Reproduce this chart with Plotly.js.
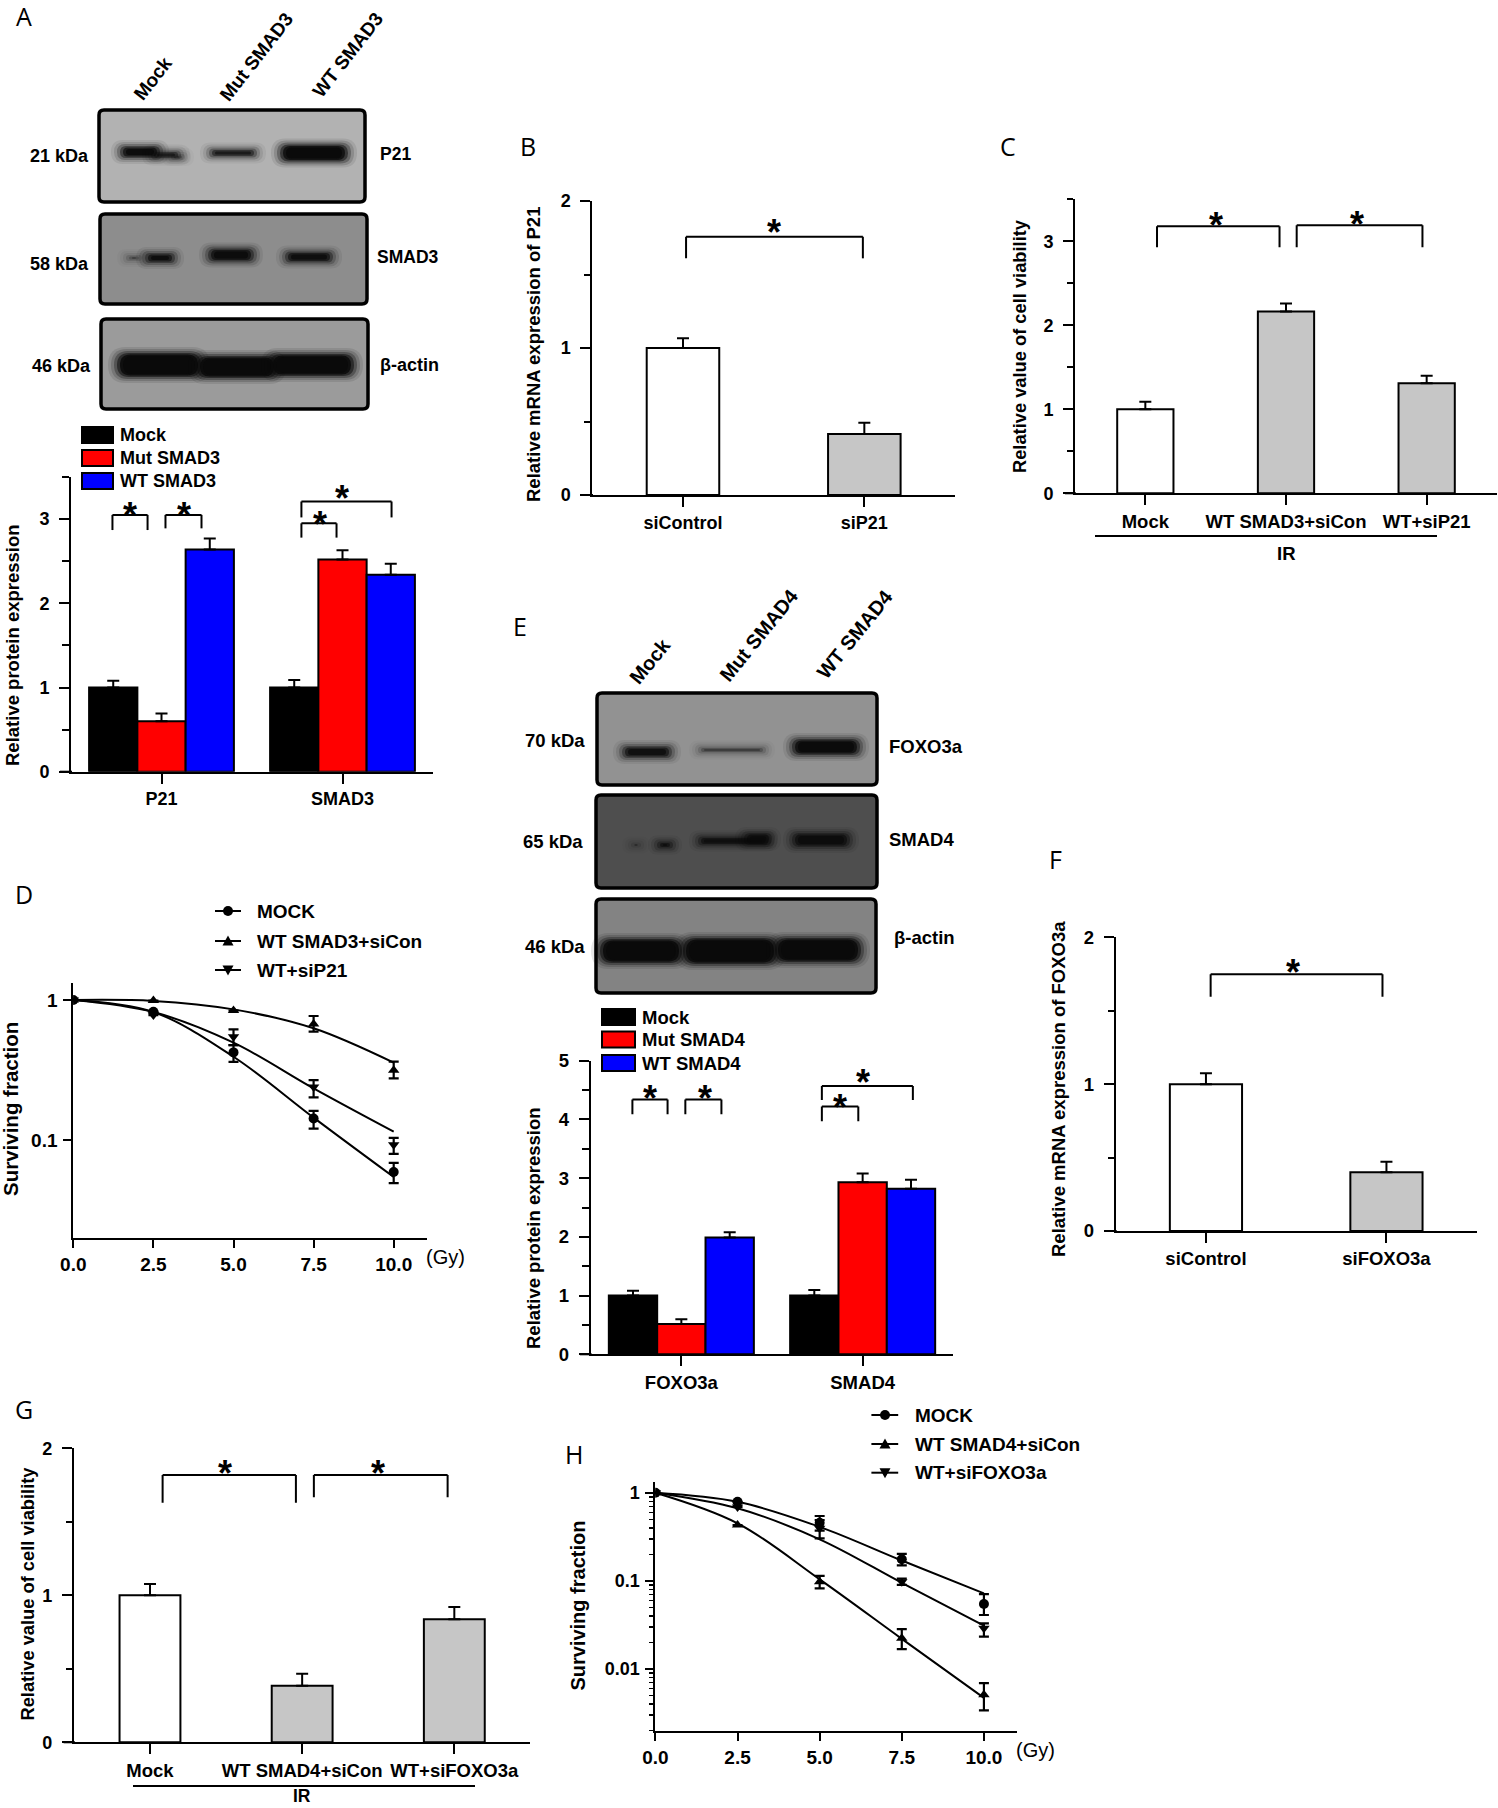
<!DOCTYPE html>
<html><head><meta charset="utf-8">
<script src="https://cdn.plot.ly/plotly-3.0.1.min.js"></script>
<style>body{margin:0;background:#fff}</style>
</head><body><div id="plot" style="width:1498px;height:1808px"></div>
<script>
// ---------------- DATA ----------------
// Panel A
const aCategories = ['P21', 'SMAD3'];
const aSeries = ['Mock', 'Mut SMAD3', 'WT SMAD3'];
const aMock = [1.00, 1.00];   const aMockErr = [0.08, 0.09];
const aMut  = [0.60, 2.52];   const aMutErr  = [0.09, 0.11];
const aWT   = [2.64, 2.34];   const aWTErr   = [0.13, 0.13];
// Panel B
const bCategories = ['siControl', 'siP21'];
const bValues = [1.00, 0.415];
const bErr    = [0.066, 0.077];
// Panel C
const cCategories = ['Mock', 'WT SMAD3+siCon', 'WT+siP21'];
const cValues = [1.00, 2.165, 1.31];
const cErr    = [0.089, 0.095, 0.09];
// Panel D
const dDose = [0, 2.5, 5.0, 7.5, 10.0];
const dSeries = ['MOCK', 'WT SMAD3+siCon', 'WT+siP21'];
const dMock    = [1, 0.825, 0.423, 0.143, 0.0594];
const dMockUp  = [0, 0, 0.054, 0.019, 0.0095];
const dMockDn  = [0, 0, 0.061, 0.022, 0.0099];
const dWT      = [1, 0.99, 0.84, 0.674, 0.316];
const dWTUp    = [0, 0, 0, 0.095, 0.047];
const dWTDn    = [0, 0, 0, 0.080, 0.040];
const dSi      = [1, 0.78, 0.547, 0.24, 0.093];
const dSiUp    = [0, 0, 0.07, 0.028, 0.011];
const dSiDn    = [0, 0, 0.07, 0.038, 0.013];
const dMockFit = [1, 0.82, 0.394, 0.145, 0.0547];
const dWTFit   = [1, 0.985, 0.857, 0.628, 0.357];
const dSiFit   = [1, 0.82, 0.496, 0.234, 0.115];
// Panel E
const eCategories = ['FOXO3a', 'SMAD4'];
const eSeries = ['Mock', 'Mut SMAD4', 'WT SMAD4'];
const eMock = [1.00, 1.00];   const eMockErr = [0.084, 0.095];
const eMut  = [0.516, 2.93];  const eMutErr  = [0.08, 0.15];
const eWT   = [1.99, 2.82];   const eWTErr   = [0.087, 0.154];
// Panel F
const fCategories = ['siControl', 'siFOXO3a'];
const fValues = [1.00, 0.40];
const fErr    = [0.074, 0.072];
// Panel G
const gCategories = ['Mock', 'WT SMAD4+siCon', 'WT+siFOXO3a'];
const gValues = [1.00, 0.385, 0.837];
const gErr    = [0.077, 0.082, 0.084];
// Panel H
const hDose = [0, 2.5, 5.0, 7.5, 10.0];
const hSeries = ['MOCK', 'WT SMAD4+siCon', 'WT+siFOXO3a'];
const hMock    = [1, 0.79, 0.457, 0.176, 0.0547];
const hMockUp  = [0, 0, 0.087, 0.026, 0.016];
const hMockDn  = [0, 0, 0.086, 0.026, 0.0137];
const hWT      = [1, 0.43, 0.098, 0.0223, 0.0051];
const hWTUp    = [0, 0, 0.016, 0.006, 0.0018];
const hWTDn    = [0, 0, 0.016, 0.0055, 0.0017];
const hSi      = [1, 0.69, 0.395, 0.098, 0.029];
const hSiUp    = [0, 0, 0.095, 0.008, 0.004];
const hSiDn    = [0, 0, 0.091, 0.008, 0.0057];
const hMockFit = [1, 0.79, 0.41, 0.17, 0.072];
const hWTFit   = [1, 0.45, 0.104, 0.022, 0.0047];
const hSiFit   = [1, 0.665, 0.296, 0.095, 0.031];

// ---------------- HELPERS ----------------
const W = 1498, H = 1808;
const FONT = 'Liberation Sans, Arial, sans-serif';
const px = x => x / W, py = y => 1 - y / H;
const xdom = (a, b) => [a / W, b / W];
const ydom = (top, bot) => [1 - bot / H, 1 - top / H];
const zeros = a => a.map(() => 0);

const data = [];
const shapes = [];
const ann = [];

function barTrace(xa, ya, cats, vals, errs, color, width) {
  const t = {type: 'bar', x: cats, y: vals, xaxis: xa, yaxis: ya,
    marker: {color: color, line: {color: '#000', width: 2}},
    error_y: {type: 'data', symmetric: false, array: errs, arrayminus: zeros(errs),
              color: '#000', thickness: 2, width: 6},
    hoverinfo: 'none'};
  if (width) t.width = width;
  data.push(t);
}
function pointTrace(xa, ya, xs, ys, up, dn, symbol) {
  data.push({type: 'scatter', mode: 'markers', x: xs, y: ys, xaxis: xa, yaxis: ya,
    marker: {symbol: symbol, size: 10, color: '#000'},
    error_y: {type: 'data', symmetric: false, array: up, arrayminus: dn,
              color: '#000', thickness: 2.2, width: 5},
    hoverinfo: 'none'});
}
function fitTrace(xa, ya, xs, ys) {
  data.push({type: 'scatter', mode: 'lines', x: xs, y: ys, xaxis: xa, yaxis: ya,
    line: {color: '#000', width: 2, shape: 'spline', smoothing: 1}, hoverinfo: 'none'});
}
function catAxis(dom, cats, anchor, fs, nx) {
  return {domain: dom, type: 'category', categoryorder: 'array', categoryarray: cats,
    range: [-0.5, nx - 0.5], anchor: anchor, showline: true, linewidth: 2, linecolor: '#000',
    ticks: 'outside', ticklen: 10, tickwidth: 2, tickcolor: '#000', showgrid: false, zeroline: false,
    tickfont: {family: FONT, size: fs, color: '#000', weight: 'bold'}, fixedrange: true};
}
function linYAxis(dom, top, anchor, fs, minorLen) {
  return {domain: dom, range: [0, top], anchor: anchor, showline: true, linewidth: 2, linecolor: '#000',
    ticks: 'outside', ticklen: 10, tickwidth: 2, tickcolor: '#000', dtick: 1, tick0: 0,
    minor: {dtick: 0.5, tick0: 0, ticks: 'outside', ticklen: minorLen, tickwidth: 2, tickcolor: '#000', showgrid: false},
    showgrid: false, zeroline: false, ticklabelstandoff: 6,
    tickfont: {family: FONT, size: fs, color: '#000', weight: 'bold'}, fixedrange: true};
}
function doseAxis(dom, right, anchor) {
  return {domain: dom, range: [0, right], anchor: anchor, showline: true, linewidth: 2, linecolor: '#000',
    ticks: 'outside', ticklen: 8, tickwidth: 2, tickcolor: '#000',
    tickvals: [0, 2.5, 5, 7.5, 10], tickformat: '.1f', showgrid: false, zeroline: false,
    tickfont: {family: FONT, size: 19, color: '#000', weight: 'bold'}, fixedrange: true};
}
function logAxis(dom, lo, hi, anchor, vals, texts, fs, minorVals) {
  const a = {domain: dom, type: 'log', range: [lo, hi], anchor: anchor, showline: true, linewidth: 2, linecolor: '#000',
    ticks: 'outside', ticklen: 8, tickwidth: 2, tickcolor: '#000', tickvals: vals, ticktext: texts,
    showgrid: false, zeroline: false, ticklabelstandoff: 2,
    tickfont: {family: FONT, size: fs, color: '#000', weight: 'bold'}, fixedrange: true};
  if (minorVals) a.minor = {tickvals: minorVals, ticks: 'outside', ticklen: 4, tickwidth: 1.5, tickcolor: '#000', showgrid: false};
  return a;
}
function lineP(x0, y0, x1, y1, w) {
  shapes.push({type: 'line', xref: 'paper', yref: 'paper', x0: px(x0), y0: py(y0), x1: px(x1), y1: py(y1),
    line: {color: '#000', width: w || 2}});
}
function bracket(xa, ya, x0, x1, top, legL, legR) {
  const L = (a, b, c, d) => shapes.push({type: 'line', xref: xa, yref: ya, x0: a, y0: b, x1: c, y1: d,
    line: {color: '#000', width: 2}});
  L(x0, legL, x0, top); L(x0, top, x1, top); L(x1, top, x1, legR);
}
function star(xa, ya, x, y) {
  ann.push({xref: xa, yref: ya, x: x, y: y, text: '*', showarrow: false, xanchor: 'center', yanchor: 'middle',
    yshift: -9, font: {family: FONT, size: 36, color: '#000', weight: 'bold'}});
}
function txt(x, y, t, size, opts) {
  ann.push(Object.assign({xref: 'paper', yref: 'paper', x: px(x), y: py(y), text: t, showarrow: false,
    xanchor: 'center', yanchor: 'middle', font: {family: FONT, size: size, color: '#000', weight: 'bold'}}, opts || {}));
}
function letter(x, y, t) {
  txt(x, y, t, 25, {font: {family: 'Open Sans, Noto Sans, sans-serif', size: 25, color: '#000', weight: 400}});
}
function rrectPath(x0, y0, x1, y1, r) {
  const P = (x, y) => px(x) + ',' + py(y);
  return 'M' + P(x0 + r, y0) + ' L' + P(x1 - r, y0) + ' Q' + P(x1, y0) + ' ' + P(x1, y0 + r) +
    ' L' + P(x1, y1 - r) + ' Q' + P(x1, y1) + ' ' + P(x1 - r, y1) +
    ' L' + P(x0 + r, y1) + ' Q' + P(x0, y1) + ' ' + P(x0, y1 - r) +
    ' L' + P(x0, y0 + r) + ' Q' + P(x0, y0) + ' ' + P(x0 + r, y0) + ' Z';
}
function blotBox(x0, y0, x1, y1, bg, bands) {
  shapes.push({type: 'path', xref: 'paper', yref: 'paper', path: rrectPath(x0, y0, x1, y1, 5),
    fillcolor: bg, line: {width: 0}});
  bands.forEach(b => {
    const [cx, cy, w, h, d] = b;
    [[18, 12, 0.07], [12, 8, 0.12], [6, 4, 0.22], [0, 0, 0.38], [-6, -3, 0.6], [-12, -6, 0.75]].forEach(l => {
      const ww = Math.max(w + l[0], 2), hh = Math.max(h + l[1], 2);
      shapes.push({type: 'path', xref: 'paper', yref: 'paper',
        path: rrectPath(cx - ww / 2, cy - hh / 2, cx + ww / 2, cy + hh / 2, hh / 2),
        fillcolor: 'rgba(10,10,10,' + Math.min(l[2] * d, 1).toFixed(3) + ')', line: {width: 0}});
    });
  });
  shapes.push({type: 'path', xref: 'paper', yref: 'paper', path: rrectPath(x0, y0, x1, y1, 5),
    fillcolor: 'rgba(0,0,0,0)', line: {color: '#000', width: 3.5}});
}
function legendRect(x0, y0, x1, y1, color) {
  shapes.push({type: 'rect', xref: 'paper', yref: 'paper', x0: px(x0), y0: py(y0), x1: px(x1), y1: py(y1),
    fillcolor: color, line: {color: '#000', width: 2}});
}
function legendMarker(cx, cy, kind) {
  if (kind === 'circle') {
    shapes.push({type: 'circle', xref: 'paper', yref: 'paper', x0: px(cx - 5), y0: py(cy - 5), x1: px(cx + 5), y1: py(cy + 5),
      fillcolor: '#000', line: {width: 0}});
  } else {
    const s = kind === 'up' ? 1 : -1;
    const P = (x, y) => px(x) + ',' + py(y);
    shapes.push({type: 'path', xref: 'paper', yref: 'paper',
      path: 'M' + P(cx, cy - 5.5 * s) + ' L' + P(cx + 5.5, cy + 4.5 * s) + ' L' + P(cx - 5.5, cy + 4.5 * s) + ' Z',
      fillcolor: '#000', line: {width: 0}});
  }
}

// ---------------- PANEL A ----------------
letter(24, 16, 'A');
blotBox(99, 110, 365, 202, '#b2b2b2', [
  [140, 152, 40, 12, 1.1], [166, 155, 30, 9, 0.7], [178, 157, 14, 6, 0.4],
  [233, 153, 48, 9, 0.8],
  [314, 153, 68, 17, 1.3]]);
blotBox(100, 214, 367, 304, '#8d8d8d', [
  [134, 258, 16, 6, 0.35], [160, 258, 30, 10, 1.0],
  [231, 255, 46, 13, 1.1],
  [309, 257, 48, 11, 1.0]]);
blotBox(101, 319, 368, 409, '#9b9b9b', [
  [159, 365, 84, 24, 1.4], [237, 367, 80, 22, 1.4], [312, 365, 84, 22, 1.4]]);
txt(59, 156, '21 kDa', 18); txt(59, 264, '58 kDa', 18); txt(62, 366, '46 kDa', 18);
txt(378, 154, 'P21', 17.5, {xanchor: 'left'}); txt(375, 257, 'SMAD3', 17.5, {xanchor: 'left'});
txt(378, 365, 'β-actin', 18, {xanchor: 'left'});
txt(153, 79, aSeries[0], 19, {textangle: -52}); txt(257, 57, aSeries[1], 19, {textangle: -52});
txt(347, 55, aSeries[2], 19, {textangle: -52});
const aColors = ['#000000', '#ff0000', '#0000ff'];
[[aMock, aMockErr], [aMut, aMutErr], [aWT, aWTErr]].forEach((s, i) =>
  barTrace('x', 'y', aCategories, s[0], s[1], aColors[i]));
[435, 458, 481].forEach((y, i) => { legendRect(82, y - 8, 113, y + 8, aColors[i]); txt(118, y, aSeries[i], 18, {xanchor: 'left'}); });
txt(12, 645, 'Relative protein expression', 18.5, {textangle: -90});
lineP(60, 771.7, 72, 771.7);
bracket('x', 'y', -0.271, -0.077, 3.05, 2.87, 2.87); star('x', 'y', -0.174, 3.15);
bracket('x', 'y', 0.022, 0.221, 3.05, 2.89, 2.89);   star('x', 'y', 0.122, 3.15);
bracket('x', 'y', 0.773, 0.967, 2.95, 2.78, 2.78);   star('x', 'y', 0.877, 3.04);
bracket('x', 'y', 0.773, 1.271, 3.21, 3.02, 3.02);   star('x', 'y', 0.998, 3.35);

// ---------------- PANEL B ----------------
letter(528, 146, 'B');
barTrace('x2', 'y2', bCategories, bValues, bErr, ['#ffffff', '#c6c6c6'], 0.4);
txt(533, 355, 'Relative mRNA expression of P21', 18.5, {textangle: -90});
lineP(582, 495, 593, 495);
bracket('x2', 'y2', 0.017, 0.992, 1.757, 1.61, 1.61); star('x2', 'y2', 0.5, 1.848);

// ---------------- PANEL C ----------------
letter(1008, 146, 'C');
barTrace('x3', 'y3', cCategories, cValues, cErr, ['#ffffff', '#c6c6c6', '#c6c6c6'], 0.4);
txt(1019, 346, 'Relative value of cell viability', 18.3, {textangle: -90});
lineP(1065, 493.3, 1076, 493.3);
bracket('x3', 'y3', 0.083, 0.954, 3.18, 2.93, 2.93); star('x3', 'y3', 0.505, 3.30);
bracket('x3', 'y3', 1.076, 1.970, 3.19, 2.93, 2.93); star('x3', 'y3', 1.507, 3.31);
lineP(1095, 536, 1437, 536, 2);
txt(1286, 553, 'IR', 18.5);

// ---------------- PANEL D ----------------
letter(24, 894, 'D');
fitTrace('x4', 'y4', dDose, dMockFit); fitTrace('x4', 'y4', dDose, dWTFit); fitTrace('x4', 'y4', dDose, dSiFit);
pointTrace('x4', 'y4', dDose, dMock, dMockUp, dMockDn, 'circle');
pointTrace('x4', 'y4', dDose, dWT, dWTUp, dWTDn, 'triangle-up');
pointTrace('x4', 'y4', dDose, dSi, dSiUp, dSiDn, 'triangle-down');
txt(10, 1109, 'Surviving fraction', 20.5, {textangle: -90});
txt(445, 1257, '(Gy)', 20, {font: {family: FONT, size: 20, color: '#000', weight: 'normal'}});
const dKinds = ['circle', 'up', 'down'];
[911, 941, 970].forEach((y, i) => { lineP(215, y, 241, y, 2); legendMarker(228, y, dKinds[i]); txt(255, y, dSeries[i], 19, {xanchor: 'left'}); });

// ---------------- PANEL E ----------------
letter(520, 626, 'E');
blotBox(597, 693, 877, 785, '#929292', [
  [647, 752, 50, 12, 0.95], [732, 750, 68, 7, 0.4], [826, 747, 68, 16, 1.2]]);
blotBox(596, 795, 877, 888, '#4e4e4e', [
  [636, 845, 10, 5, 0.3], [665, 845, 16, 7, 0.9], [733, 841, 70, 9, 0.9], [758, 839, 28, 12, 0.9],
  [821, 840, 58, 14, 1.0]]);
blotBox(596, 899, 876, 993, '#838383', [
  [641, 951, 82, 24, 1.4], [730, 951, 94, 26, 1.4], [818, 950, 86, 24, 1.4]]);
txt(555, 740, '70 kDa', 18.5); txt(553, 841, '65 kDa', 18.5); txt(555, 947, '46 kDa', 18.5);
txt(887, 746, 'FOXO3a', 18.5, {xanchor: 'left'}); txt(887, 839, 'SMAD4', 18.5, {xanchor: 'left'});
txt(892, 938, 'β-actin', 18.5, {xanchor: 'left'});
txt(650, 661, eSeries[0], 20, {textangle: -51}); txt(759, 635, eSeries[1], 20, {textangle: -51});
txt(855, 634, eSeries[2], 20, {textangle: -51});
[[eMock, eMockErr], [eMut, eMutErr], [eWT, eWTErr]].forEach((s, i) =>
  barTrace('x5', 'y5', eCategories, s[0], s[1], aColors[i]));
[1017, 1039.5, 1063].forEach((y, i) => { legendRect(602, y - 8, 635, y + 8, aColors[i]); txt(640, y, eSeries[i], 18.5, {xanchor: 'left'}); });
txt(533, 1228, 'Relative protein expression', 18.5, {textangle: -90});
lineP(580, 1354.3, 591.7, 1354.3);
bracket('x5', 'y5', -0.270, -0.076, 4.34, 4.09, 4.09); star('x5', 'y5', -0.172, 4.51);
bracket('x5', 'y5', 0.022, 0.221, 4.34, 4.09, 4.09);   star('x5', 'y5', 0.129, 4.51);
bracket('x5', 'y5', 0.775, 0.976, 4.22, 3.97, 3.97);   star('x5', 'y5', 0.876, 4.36);
bracket('x5', 'y5', 0.775, 1.277, 4.57, 4.33, 4.33);   star('x5', 'y5', 1.004, 4.78);

// ---------------- PANEL F ----------------
letter(1055, 859, 'F');
barTrace('x6', 'y6', fCategories, fValues, fErr, ['#ffffff', '#c6c6c6'], 0.4);
txt(1058, 1089, 'Relative mRNA expression of FOXO3a', 18.5, {textangle: -90});
lineP(1105, 1231, 1116.7, 1231);
bracket('x6', 'y6', 0.026, 0.978, 1.748, 1.596, 1.596); star('x6', 'y6', 0.485, 1.823);

// ---------------- PANEL G ----------------
letter(24, 1409, 'G');
barTrace('x7', 'y7', gCategories, gValues, gErr, ['#ffffff', '#c6c6c6', '#c6c6c6'], 0.4);
txt(26.5, 1594, 'Relative value of cell viability', 18.3, {textangle: -90});
lineP(63.6, 1742.3, 75, 1742.3);
bracket('x7', 'y7', 0.083, 0.959, 1.819, 1.63, 1.63);  star('x7', 'y7', 0.494, 1.887);
bracket('x7', 'y7', 1.077, 1.956, 1.819, 1.667, 1.667); star('x7', 'y7', 1.5, 1.887);
lineP(133, 1786, 475, 1786, 2);
txt(301.8, 1807, 'IR', 17.5, {yanchor: 'bottom', borderpad: 0});

// ---------------- PANEL H ----------------
letter(574, 1454, 'H');
fitTrace('x8', 'y8', hDose, hMockFit); fitTrace('x8', 'y8', hDose, hWTFit); fitTrace('x8', 'y8', hDose, hSiFit);
pointTrace('x8', 'y8', hDose, hMock, hMockUp, hMockDn, 'circle');
pointTrace('x8', 'y8', hDose, hWT, hWTUp, hWTDn, 'triangle-up');
pointTrace('x8', 'y8', hDose, hSi, hSiUp, hSiDn, 'triangle-down');
txt(577.6, 1606, 'Surviving fraction', 20, {textangle: -90});
txt(1035.5, 1750, '(Gy)', 20, {font: {family: FONT, size: 20, color: '#000', weight: 'normal'}});
[1415, 1444, 1472.7].forEach((y, i) => { lineP(871.4, y, 898.2, y, 2); legendMarker(885, y, dKinds[i]); txt(912.5, y, hSeries[i], 19, {xanchor: 'left'}); });

const hMinor = [];
[0.001, 0.01, 0.1].forEach(d => { for (let k = 2; k <= 9; k++) hMinor.push(d * k); });

// ---------------- LAYOUT ----------------
const layout = {
  width: W, height: H, margin: {l: 0, r: 0, t: 0, b: 0},
  paper_bgcolor: '#ffffff', plot_bgcolor: 'rgba(0,0,0,0)',
  showlegend: false, barmode: 'group', bargap: 0.2, bargroupgap: 0, hovermode: false,
  font: {family: FONT, color: '#000'},
  xaxis:  catAxis(xdom(71, 433), aCategories, 'y', 18, 2),
  yaxis:  linYAxis(ydom(477, 771.7), 3.5, 'x', 18, 7),
  xaxis2: catAxis(xdom(592.3, 955), bCategories, 'y2', 18, 2),
  yaxis2: linYAxis(ydom(201, 495), 2, 'x2', 18, 6),
  xaxis3: catAxis(xdom(1075, 1497), cCategories, 'y3', 18.5, 3),
  yaxis3: linYAxis(ydom(199.3, 493.3), 3.5, 'x3', 18, 6),
  xaxis4: doseAxis(xdom(73.3, 426.7), 11.03, 'y4'),
  yaxis4: logAxis(ydom(983, 1238.3), Math.log10(0.02), 0.121, 'x4', [0.1, 1], ['0.1', '1'], 19),
  xaxis5: catAxis(xdom(590.7, 953.3), eCategories, 'y5', 18.5, 2),
  yaxis5: linYAxis(ydom(1060.7, 1354.3), 5, 'x5', 18.5, 7),
  xaxis6: catAxis(xdom(1115.7, 1476.7), fCategories, 'y6', 18.5, 2),
  yaxis6: linYAxis(ydom(937.3, 1231), 2, 'x6', 18.5, 6),
  xaxis7: catAxis(xdom(73.9, 530.4), gCategories, 'y7', 18.5, 3),
  yaxis7: linYAxis(ydom(1448.3, 1742.3), 2, 'x7', 18, 6),
  xaxis8: doseAxis(xdom(655.4, 1017.1), 11.01, 'y8'),
  yaxis8: logAxis(ydom(1481.7, 1730.7), -2.70, 0.125, 'x8', [0.01, 0.1, 1], ['0.01', '0.1', '1'], 18, hMinor),
  shapes: shapes, annotations: ann
};

Plotly.newPlot('plot', data, layout, {staticPlot: true, displayModeBar: false});
</script></body></html>
